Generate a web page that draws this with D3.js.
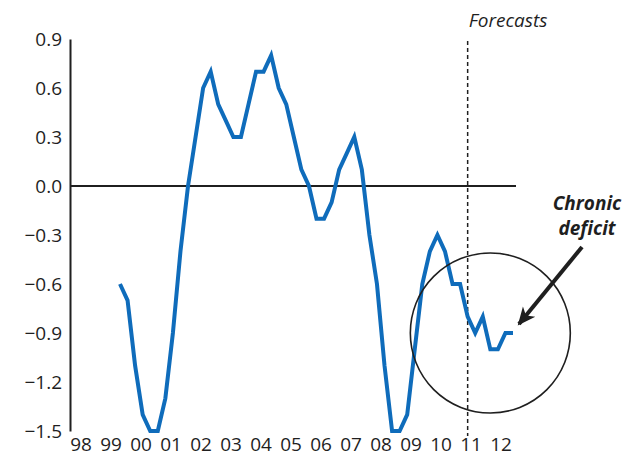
<!DOCTYPE html>
<html>
<head>
<meta charset="utf-8">
<script src="https://cdn.jsdelivr.net/npm/d3@7"></script>
<style>
  html, body { margin: 0; padding: 0; background: #fff; }
  svg { display: block; font-family: "Open Sans", "Noto Sans", sans-serif; }
</style>
</head>
<body>
<svg id="chart" width="624" height="457"></svg>
<script>
// Quarterly balance, starting in the second quarter of 1999
const startYear = 1999.25;
const balance = [
  -0.6, -0.7, -1.1, -1.4, -1.5, -1.5, -1.3, -0.9, -0.4, 0.0,
   0.3,  0.6,  0.7,  0.5,  0.4,  0.3,  0.3,  0.5,  0.7, 0.7,
   0.8,  0.6,  0.5,  0.3,  0.1,  0.0, -0.2, -0.2, -0.1, 0.1,
   0.2,  0.3,  0.1, -0.3, -0.6, -1.1, -1.5, -1.5, -1.4, -1.0,
  -0.6, -0.4, -0.3, -0.4, -0.6, -0.6, -0.8, -0.9, -0.8, -1.0,
  -1.0, -0.9, -0.9
];
const yearLabels = ["98","99","00","01","02","03","04","05","06","07","08","09","10","11","12"];
const yTicks = [0.9, 0.6, 0.3, 0.0, -0.3, -0.6, -0.9, -1.2, -1.5];
const forecastStart = 2010.75;
const forecastLabel = "Forecasts";
const noteLines = ["Chronic", "deficit"];

const series = balance.map((v, i) => ({ t: startYear + i * 0.25, v }));

const svg = d3.select("#chart");
const ink = "#1f1f1f";
const blue = "#0f6cbb";

const x = d3.scaleLinear()
  .domain([startYear, startYear + (balance.length - 1) * 0.25])
  .range([120, 513]);
const y = d3.scaleLinear().domain([-1.5, 0.9]).range([431, 39]);
const xYear = d3.scalePoint().domain(yearLabels).range([81, 501]);

// y axis: plain line with labels, no tick marks
const yAxis = d3.axisLeft(y)
  .tickValues(yTicks)
  .tickSize(0)
  .tickPadding(8)
  .tickFormat(d3.format(".1f"));
const gy = svg.append("g").attr("transform", "translate(70,0)").call(yAxis);
gy.select(".domain").attr("stroke", ink).attr("stroke-width", 2);
gy.selectAll("text")
  .attr("fill", ink)
  .style("font-size", "19px")
  .style("font-family", "'Open Sans', sans-serif");

// zero line
svg.append("line")
  .attr("x1", 70).attr("x2", 516)
  .attr("y1", y(0)).attr("y2", y(0))
  .attr("stroke", ink).attr("stroke-width", 2);

// year labels along the bottom
svg.append("g").selectAll("text")
  .data(yearLabels)
  .join("text")
  .attr("x", d => xYear(d))
  .attr("y", 451)
  .attr("text-anchor", "middle")
  .attr("fill", ink)
  .style("font-size", "19px")
  .text(d => d);

// forecast divider
svg.append("line")
  .attr("x1", x(forecastStart)).attr("x2", x(forecastStart))
  .attr("y1", 41).attr("y2", 436)
  .attr("stroke", ink).attr("stroke-width", 1.5)
  .attr("stroke-dasharray", "4,3");
svg.append("text")
  .attr("x", x(forecastStart) + 1)
  .attr("y", 27)
  .attr("fill", ink)
  .style("font-size", "19px")
  .style("font-style", "italic")
  .text(forecastLabel);

// the balance line
svg.append("path")
  .datum(series)
  .attr("fill", "none")
  .attr("stroke", blue)
  .attr("stroke-width", 4)
  .attr("stroke-linejoin", "miter")
  .attr("d", d3.line().x(d => x(d.t)).y(d => y(d.v)));

// circle around the forecast period
svg.append("circle")
  .attr("cx", x(startYear + 49 * 0.25))
  .attr("cy", y(-0.9))
  .attr("r", 80)
  .attr("fill", "none")
  .attr("stroke", ink)
  .attr("stroke-width", 1.6);

// arrow pointing into the circle
const defs = svg.append("defs");
defs.append("marker")
  .attr("id", "head")
  .attr("markerUnits", "userSpaceOnUse")
  .attr("viewBox", "0 -10 20 20")
  .attr("refX", 16).attr("refY", 0)
  .attr("markerWidth", 20).attr("markerHeight", 20)
  .attr("orient", "auto")
  .append("path")
  .attr("d", "M0,-8 L18,0 L0,8 L5,0 Z")
  .attr("fill", ink);

svg.append("line")
  .attr("x1", 582).attr("y1", 247)
  .attr("x2", 519).attr("y2", 324)
  .attr("stroke", ink)
  .attr("stroke-width", 4)
  .attr("marker-end", "url(#head)");

svg.append("g").selectAll("text")
  .data(noteLines)
  .join("text")
  .attr("x", 587)
  .attr("y", (d, i) => 210 + i * 25)
  .attr("text-anchor", "middle")
  .attr("fill", ink)
  .style("font-size", "19px")
  .style("font-weight", "bold")
  .style("font-style", "italic")
  .text(d => d);
</script>
</body>
</html>
